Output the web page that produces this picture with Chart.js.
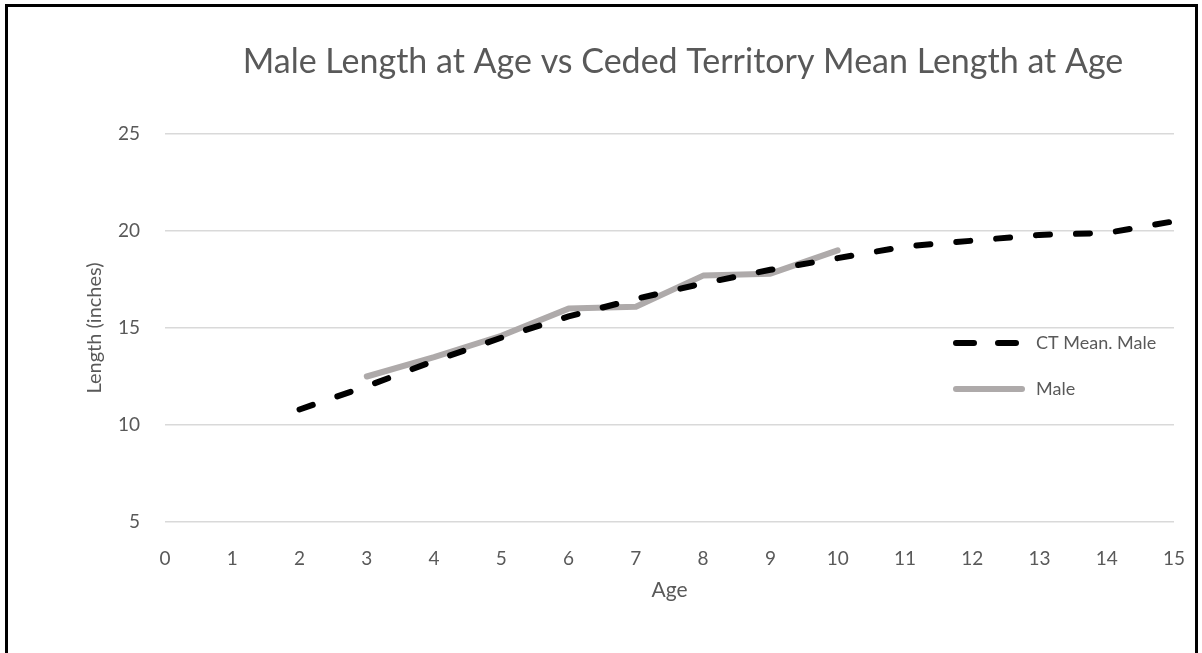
<!DOCTYPE html>
<html>
<head>
<meta charset="utf-8">
<script src="https://cdn.jsdelivr.net/npm/chart.js@4.4.1/dist/chart.umd.min.js"></script>
<style>
  html, body { margin: 0; padding: 0; background: #fff; overflow: hidden; }
  #frame {
    position: absolute; left: 5px; top: 4px;
    width: 1187px; height: 700px;
    border: 3px solid #000;
  }
  #wrap { position: absolute; left: 0; top: 0; width: 1202px; height: 653px; }
</style>
</head>
<body>
<div id="frame"></div>
<div id="wrap"><canvas id="chart"></canvas></div>
<script>
// data
const ctAges = [2, 3, 4, 5, 6, 7, 8, 9, 10, 11, 12, 13, 14, 15];
const ctMeanMale = [10.8, 12.0, 13.3, 14.5, 15.6, 16.5, 17.3, 18.0, 18.6, 19.2, 19.5, 19.8, 19.9, 20.5];
const maleAges = [3, 4, 5, 6, 7, 8, 9, 10];
const maleLength = [12.5, 13.5, 14.6, 16.0, 16.1, 17.7, 17.8, 19.0];
const yTicks = [5, 10, 15, 20, 25];

const textColor = '#595959';
const fontFamily = "Lato, 'Open Sans', sans-serif";

// title drawn over the plot, Excel style
const titlePlugin = {
  id: 'excelTitle',
  afterDraw(chart) {
    const ctx = chart.ctx;
    ctx.save();
    ctx.fillStyle = textColor;
    ctx.font = '34px ' + fontFamily;
    ctx.textAlign = 'center';
    ctx.textBaseline = 'middle';
    ctx.fillText('Male Length at Age vs Ceded Territory Mean Length at Age', 683, 62);
    ctx.restore();
  }
};

// legend sitting inside the plot area on the right
const legendPlugin = {
  id: 'insideLegend',
  afterDraw(chart) {
    const ctx = chart.ctx;
    const rows = [343, 389];
    ctx.save();
    chart.data.datasets.forEach((ds, i) => {
      const y = rows[i];
      const dashed = !!ds.borderDash;
      ctx.beginPath();
      ctx.strokeStyle = ds.borderColor;
      ctx.lineWidth = ds.borderWidth;
      ctx.lineCap = 'round';
      ctx.setLineDash(dashed ? [18, 24] : []);
      ctx.moveTo(dashed ? 956 : 956, y);
      ctx.lineTo(dashed ? 1016 : 1022, y);
      ctx.stroke();
      ctx.setLineDash([]);
      ctx.fillStyle = textColor;
      ctx.font = '18px ' + fontFamily;
      ctx.textAlign = 'left';
      ctx.textBaseline = 'middle';
      ctx.fillText(ds.label, 1036, y);
    });
    ctx.restore();
  }
};

new Chart(document.getElementById('chart'), {
  type: 'scatter',
  data: {
    datasets: [{
      label: 'CT Mean. Male',
      data: ctAges.map((a, i) => ({ x: a, y: ctMeanMale[i] })),
      showLine: true,
      borderColor: '#000000',
      borderWidth: 6,
      borderDash: [14, 26],
      borderCapStyle: 'round',
      pointRadius: 0,
      tension: 0
    }, {
      label: 'Male',
      data: maleAges.map((a, i) => ({ x: a, y: maleLength[i] })),
      showLine: true,
      borderColor: '#AEAAAA',
      borderWidth: 6,
      borderCapStyle: 'round',
      borderJoinStyle: 'round',
      pointRadius: 0,
      tension: 0
    }]
  },
  options: {
    responsive: true,
    maintainAspectRatio: false,
    animation: false,
    layout: { padding: { top: 134, right: 27, bottom: 0, left: 0 } },
    plugins: {
      legend: { display: false },
      tooltip: { enabled: false },
      title: { display: false }
    },
    scales: {
      x: {
        type: 'linear',
        min: 0,
        max: 15,
        afterFit: (scale) => { scale.height = 131; },
        ticks: { stepSize: 1, color: textColor, font: { family: fontFamily, size: 19 }, padding: 17 },
        grid: { display: false },
        border: { display: false },
        title: { display: true, text: 'Age', color: textColor, font: { family: fontFamily, size: 21 }, padding: { top: 0, bottom: 50 } }
      },
      y: {
        type: 'linear',
        min: 5,
        max: 25,
        afterFit: (scale) => { scale.width = 165; },
        afterBuildTicks: (scale) => { scale.ticks = yTicks.map(v => ({ value: v })); },
        ticks: { color: textColor, font: { family: fontFamily, size: 19 }, padding: 25 },
        grid: { color: '#D9D9D9', lineWidth: 1.5, drawTicks: false },
        border: { display: false },
        title: { display: true, text: 'Length (inches)', color: textColor, font: { family: fontFamily, size: 20 }, padding: { top: 83, bottom: 0 } }
      }
    }
  },
  plugins: [titlePlugin, legendPlugin]
});
</script>
</body>
</html>
